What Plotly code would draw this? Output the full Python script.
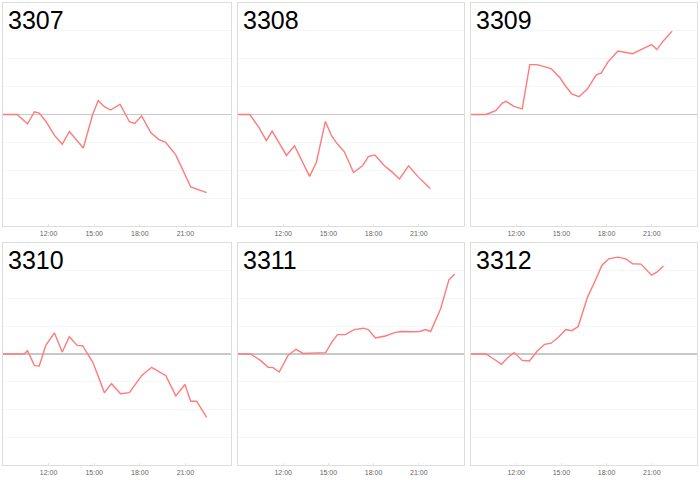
import plotly.graph_objects as go

DAY = "2024-01-01 "

titles = ["3307", "3308", "3309", "3310", "3311", "3312"]

t_3307 = ["09:00", "09:56", "10:37", "11:04", "11:23", "11:49", "12:23", "12:54", "13:22", "14:17", "14:54",
          "15:16", "15:40", "16:05", "16:42", "17:19", "17:40", "18:07", "18:44", "19:14", "19:42", "20:22",
          "21:21", "22:24"]
v_3307 = [0, 0, -0.34, 0.10, 0.05, -0.24, -0.75, -1.07, -0.61, -1.20, 0.0,
          0.50, 0.28, 0.16, 0.37, -0.26, -0.32, -0.05, -0.66, -0.89, -1.00, -1.45,
          -2.60, -2.80]

t_3308 = ["09:00", "09:47", "10:23", "10:53", "11:16", "11:45", "12:13", "12:45", "13:16", "13:45", "14:12",
          "14:48", "15:12", "15:36", "16:03", "16:40", "17:16", "17:39", "18:05", "18:43", "19:12", "19:43",
          "20:19", "20:56", "21:46"]
v_3308 = [0, 0, -0.46, -0.94, -0.60, -1.04, -1.47, -1.12, -1.72, -2.22, -1.72,
          -0.25, -0.75, -1.06, -1.33, -2.08, -1.84, -1.51, -1.45, -1.84, -2.05, -2.31,
          -1.84, -2.22, -2.66]

t_3309 = ["09:00", "10:00", "10:38", "11:05", "11:20", "11:51", "12:24", "12:54", "13:23", "14:19", "14:55",
          "15:14", "15:41", "16:10", "16:44", "17:19", "17:39", "18:05", "18:45", "19:11", "19:44", "20:17",
          "20:59", "21:20", "21:46", "22:21"]
v_3309 = [0, 0, 0.14, 0.41, 0.47, 0.29, 0.20, 1.79, 1.79, 1.65, 1.31,
          1.05, 0.74, 0.64, 0.92, 1.42, 1.49, 1.88, 2.28, 2.23, 2.18, 2.33,
          2.51, 2.33, 2.64, 2.99]

t_3310 = ["09:00", "10:23", "10:37", "11:04", "11:23", "11:49", "12:23", "12:54", "13:22", "13:53", "14:14",
          "14:54", "15:16", "15:40", "16:08", "16:44", "17:19", "18:07", "18:47", "19:16", "19:43", "20:22",
          "20:58", "21:21", "21:44", "22:24"]
v_3310 = [0, 0, 0.12, -0.42, -0.43, 0.31, 0.76, 0.07, 0.62, 0.31, 0.30,
          -0.29, -0.80, -1.40, -1.07, -1.43, -1.39, -0.78, -0.48, -0.62, -0.78, -1.51,
          -1.10, -1.70, -1.70, -2.28]

t_3311 = ["09:00", "09:50", "10:31", "11:00", "11:20", "11:44", "12:20", "12:51", "13:20", "14:49", "15:13",
          "15:36", "16:07", "16:43", "17:20", "17:40", "18:07", "18:47", "19:24", "19:49", "20:33", "21:04",
          "21:27", "21:47", "22:27", "23:00", "23:23"]
v_3311 = [0, 0, -0.24, -0.48, -0.49, -0.65, -0.04, 0.17, 0.02, 0.05, 0.42,
          0.70, 0.70, 0.88, 0.93, 0.87, 0.58, 0.65, 0.77, 0.81, 0.80, 0.81,
          0.88, 0.81, 1.63, 2.67, 2.88]

t_3312 = ["09:00", "10:00", "10:32", "11:02", "11:25", "11:52", "12:24", "12:53", "13:23", "13:53", "14:19",
          "14:48", "15:17", "15:41", "16:07", "16:44", "17:15", "17:41", "18:08", "18:45", "19:17", "19:44",
          "20:17", "20:59", "21:20", "21:46"]
v_3312 = [0, 0, -0.19, -0.37, -0.14, 0.05, -0.23, -0.25, 0.10, 0.35, 0.39,
          0.60, 0.88, 0.84, 0.99, 2.05, 2.65, 3.19, 3.43, 3.49, 3.43, 3.25,
          3.24, 2.84, 2.95, 3.17]

times = [t_3307, t_3308, t_3309, t_3310, t_3311, t_3312]
values = [v_3307, v_3308, v_3309, v_3310, v_3311, v_3312]

tick_vals = ["12:00", "15:00", "18:00", "21:00"]
x_start, x_end = "09:00", "2024-01-02 00:00"
y_min, y_max = -4, 4

W, H = 700, 480
col_px = [(3, 231), (238, 464), (471, 697)]
row_px = [(3, 226), (243, 465)]

fig = go.Figure()
for i, (name, t, v) in enumerate(zip(titles, times, values)):
    r, c = divmod(i, 3)
    xa = "x" if i == 0 else f"x{i+1}"
    ya = "y" if i == 0 else f"y{i+1}"
    fig.add_trace(go.Scatter(
        x=[DAY + s for s in t], y=v, mode="lines",
        line=dict(color="#ff7a7a", width=1.4),
        xaxis=xa, yaxis=ya, showlegend=False, hoverinfo="skip"))
    x0, x1 = col_px[c]
    y0, y1 = row_px[r]
    xdom = [x0 / W, x1 / W]
    ydom = [1 - y1 / H, 1 - y0 / H]
    xkey = "xaxis" if i == 0 else f"xaxis{i+1}"
    ykey = "yaxis" if i == 0 else f"yaxis{i+1}"
    fig.layout[xkey] = dict(
        domain=xdom, anchor=ya, type="date",
        range=[DAY + x_start, x_end],
        tickvals=[DAY + s for s in tick_vals], ticktext=tick_vals,
        tickfont=dict(size=7, color="#666666", family="Liberation Sans"),
        ticks="inside", ticklen=2, tickcolor="#e6e6e6",
        showgrid=False, zeroline=False,
        showline=True, mirror=True, linecolor="#dddddd", linewidth=1.2,
        automargin=False, fixedrange=True)
    fig.layout[ykey] = dict(
        domain=ydom, anchor=xa, range=[y_min, y_max],
        dtick=1, showticklabels=False,
        showgrid=True, gridcolor="#f6f6f6", gridwidth=1,
        zeroline=True, zerolinecolor="#c8c8c8", zerolinewidth=1.6,
        showline=True, mirror=True, linecolor="#dddddd", linewidth=1.2,
        automargin=False, fixedrange=True)
    fig.add_annotation(
        text=name, xref="paper", yref="paper",
        x=(x0 + 3) / W, y=1 - (y0 + 1) / H, xanchor="left", yanchor="top",
        showarrow=False, font=dict(size=25, color="#000000", family="Liberation Sans"))

fig.update_layout(
    width=W, height=H,
    margin=dict(l=0, r=0, t=0, b=0),
    paper_bgcolor="white", plot_bgcolor="white")

fig.write_html("out.html", config={"displayModeBar": False, "staticPlot": True},
               post_script="document.body.style.margin='0';document.body.style.overflow='hidden';")
